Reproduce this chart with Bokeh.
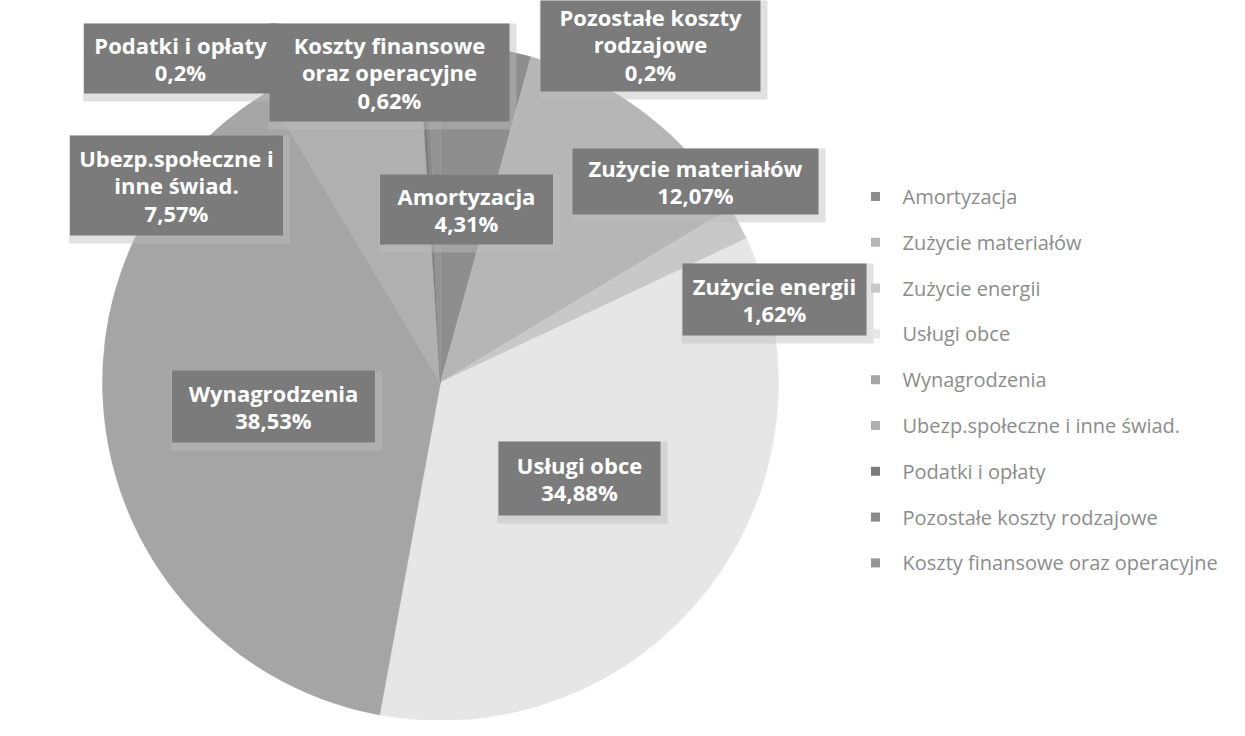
import math
from bokeh.plotting import figure
from bokeh.models import ColumnDataSource, Range1d
from bokeh.embed import file_html
from bokeh.resources import INLINE
from bokeh.core.properties import value

# ---------------- data ----------------
categories = [
    "Amortyzacja",
    "Zużycie materiałów",
    "Zużycie energii",
    "Usługi obce",
    "Wynagrodzenia",
    "Ubezp.społeczne i inne świad.",
    "Podatki i opłaty",
    "Pozostałe koszty rodzajowe",
    "Koszty finansowe oraz operacyjne",
]
shares = [4.31, 12.07, 1.62, 34.88, 38.53, 7.57, 0.2, 0.2, 0.62]
label_names = [
    "Amortyzacja",
    "Zużycie materiałów",
    "Zużycie energii",
    "Usługi obce",
    "Wynagrodzenia",
    "Ubezp.społeczne i\ninne świad.",
    "Podatki i opłaty",
    "Pozostałe koszty\nrodzajowe",
    "Koszty finansowe\noraz operacyjne",
]

# ---------------- style / layout ----------------
slice_colors = ["#8e8e8e", "#b6b6b6", "#c8c8c8", "#e6e6e6", "#a5a5a5",
                "#b0b0b0", "#7c7c7c", "#8a8a8a", "#939393"]
W, H = 1229, 720


def px(X):
    return X


def py(Y):
    return H - Y


# pie geometry (image pixels)
CX, CY, R = 440, 382, 338

# label boxes: centre x, centre y, width, height (image pixels)
box_cx = [466, 695, 774, 579, 273, 176, 180, 650, 389]
box_cy = [209, 181, 299, 478, 406, 185, 58, 44, 72]
box_w = [173, 246, 184, 162, 203, 213, 193, 220, 240]
box_h = [70, 66, 72, 74, 72, 100, 70, 94, 98]

p = figure(width=W, height=H, x_range=Range1d(0, W), y_range=Range1d(0, H),
           output_backend="svg", toolbar_location=None, min_border=0)
p.axis.visible = False
p.grid.visible = False
p.outline_line_color = None
p.background_fill_color = "white"
p.border_fill_color = "white"

# wedges
starts, ends = [], []
cum = 0.0
total = sum(shares)
for v in shares:
    a0 = math.pi / 2 - 2 * math.pi * cum / total
    cum += v
    a1 = math.pi / 2 - 2 * math.pi * cum / total
    starts.append(a0)
    ends.append(a1)

wsrc = ColumnDataSource(dict(cat=categories, share=shares, start=starts, end=ends,
                             color=slice_colors))
p.wedge(x=px(CX), y=py(CY), radius=R, start_angle="start", end_angle="end",
        direction="clock", fill_color="color", line_color="color", line_width=0.5,
        source=wsrc)

# label boxes with soft shadow
pct_txt = [("%g" % v).replace(".", ",") + "%" for v in shares]
full_txt = [n + "\n" + t for n, t in zip(label_names, pct_txt)]
lsrc = ColumnDataSource(dict(
    x=[px(v) for v in box_cx], y=[py(v) for v in box_cy],
    xs=[px(v) + 3 for v in box_cx], ys=[py(v) - 4 for v in box_cy],
    w=box_w, h=box_h, ws=[v + 8 for v in box_w], hs=[v + 8 for v in box_h],
    txt=full_txt))
p.rect(x="xs", y="ys", width="ws", height="hs", fill_color="#bdbdbd",
       fill_alpha=0.45, line_color=None, source=lsrc)
p.rect(x="x", y="y", width="w", height="h", fill_color="#7b7b7b",
       line_color=None, source=lsrc)
p.text(x="x", y="y", text="txt", text_align="center", text_baseline="middle",
       text_color="white", text_font=value("Open Sans"), text_font_style="bold",
       text_font_size="22px", text_line_height=0.92, source=lsrc)

# legend drawn with markers + texts
LEG_X, LEG_Y0, LEG_DY = 875, 196, 45.8
leg_src = ColumnDataSource(dict(
    x=[px(LEG_X)] * len(categories),
    tx=[px(LEG_X + 27)] * len(categories),
    y=[py(LEG_Y0 + i * LEG_DY) for i in range(len(categories))],
    color=slice_colors, cat=categories))
p.rect(x="x", y="y", width=9, height=9, fill_color="color", line_color=None,
       source=leg_src)
p.text(x="tx", y="y", text="cat", text_align="left", text_baseline="middle",
       text_color="#8c8c8c", text_font=value("Open Sans"), text_font_size="20px",
       source=leg_src)

open("out.html", "w").write(file_html(p, INLINE))
